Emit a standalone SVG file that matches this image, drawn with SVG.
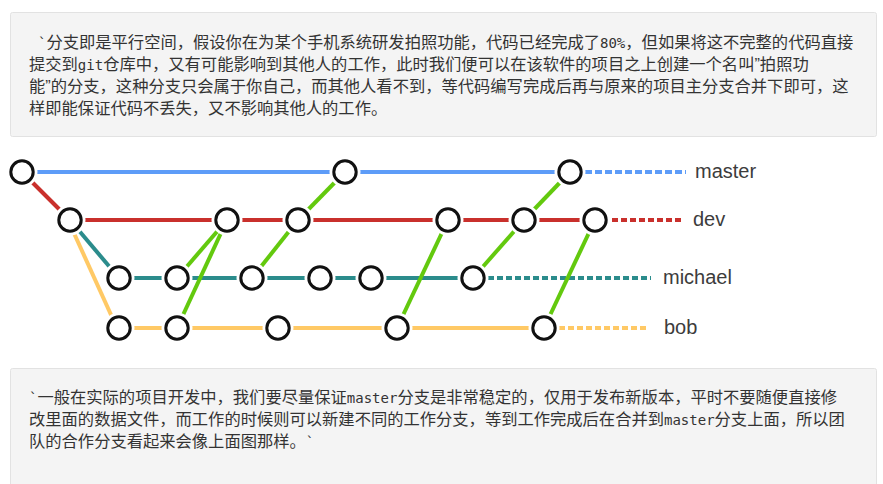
<svg xmlns="http://www.w3.org/2000/svg" width="883" height="484" viewBox="0 0 883 484">
<style>
.box{fill:#f4f4f4;stroke:#e2e2e2;stroke-width:1}
.t1{font-family:"Noto Sans CJK SC","Liberation Sans",sans-serif;font-size:16.3px;fill:#333}
.m1{font-family:"DejaVu Sans Mono","Noto Sans CJK SC",monospace;font-size:14px}
.q{font-family:"Liberation Sans",sans-serif}
.ln{stroke-width:4;fill:none;stroke-linecap:butt}
.blue{stroke:#5d9cf8}.red{stroke:#c9302c}.teal{stroke:#2b8c8c}.yel{stroke:#ffc965}.grn{stroke:#63c90e}
.dash{stroke-dasharray:6 3}
.halo{fill:#fff}
.node{fill:#fff;stroke:#111;stroke-width:3}
.lbl{font-family:"Liberation Sans",sans-serif;font-size:20px;fill:#3c3c3c}
</style>
<defs>
<g id="n"><circle class="halo" r="15.5"/><circle class="node" r="11.2"/></g>
</defs>
<rect width="883" height="484" fill="#fff"/>
<g id="top-note">
<rect class="box" x="10.5" y="12.5" width="866" height="124" rx="2"/>
<text class="t1" x="38" y="48"><tspan class="m1">`</tspan>分支即是平行空间，假设你在为某个手机系统研发拍照功能，代码已经完成了<tspan class="m1">80%</tspan>，但如果将这不完整的代码直接</text>
<text class="t1" x="29" y="70">提交到<tspan class="m1">git</tspan>仓库中，又有可能影响到其他人的工作，此时我们便可以在该软件的项目之上创建一个名叫<tspan class="q">”</tspan>拍照功</text>
<text class="t1" x="29" y="92">能<tspan class="q">”</tspan>的分支，这种分支只会属于你自己，而其他人看不到，等代码编写完成后再与原来的项目主分支合并下即可，这</text>
<text class="t1" x="29" y="114">样即能保证代码不丢失，又不影响其他人的工作。</text>
</g>
<g id="connectors">
<line class="ln blue" x1="22" y1="172" x2="570" y2="172"/>
<line class="ln blue dash" x1="585" y1="172" x2="686" y2="172" style="stroke-dasharray:7 3"/>
<line class="ln red" x1="22" y1="172" x2="70" y2="220"/>
<line class="ln red" x1="70" y1="220" x2="595" y2="220"/>
<line class="ln red dash" x1="612" y1="220" x2="684" y2="220"/>
<line class="ln teal" x1="70" y1="220" x2="119" y2="278"/>
<line class="ln teal" x1="119" y1="278" x2="473" y2="278"/>
<line class="ln teal dash" x1="488" y1="278" x2="651" y2="278"/>
<line class="ln yel" x1="68" y1="220" x2="117" y2="328"/>
<line class="ln yel" x1="119" y1="328" x2="544" y2="328"/>
<line class="ln yel dash" x1="559" y1="328" x2="649" y2="328"/>
<line class="ln grn" x1="177" y1="278" x2="227" y2="220"/>
<line class="ln grn" x1="177" y1="328" x2="227" y2="220"/>
<line class="ln grn" x1="252" y1="278" x2="298" y2="220"/>
<line class="ln grn" x1="298" y1="220" x2="345" y2="172"/>
<line class="ln grn" x1="397" y1="328" x2="448" y2="220"/>
<line class="ln grn" x1="473" y1="278" x2="524" y2="220"/>
<line class="ln grn" x1="524" y1="220" x2="570" y2="172"/>
<line class="ln grn" x1="544" y1="328" x2="595" y2="220"/>
</g>
<g id="master-0"><use href="#n" x="22" y="172"/></g>
<g id="master-1"><use href="#n" x="345" y="172"/></g>
<g id="master-2"><use href="#n" x="570" y="172"/></g>
<g id="dev-0"><use href="#n" x="70" y="220"/></g>
<g id="dev-1"><use href="#n" x="227" y="220"/></g>
<g id="dev-2"><use href="#n" x="298" y="220"/></g>
<g id="dev-3"><use href="#n" x="448" y="220"/></g>
<g id="dev-4"><use href="#n" x="524" y="220"/></g>
<g id="dev-5"><use href="#n" x="595" y="220"/></g>
<g id="michael-0"><use href="#n" x="119" y="278"/></g>
<g id="michael-1"><use href="#n" x="177" y="278"/></g>
<g id="michael-2"><use href="#n" x="252" y="278"/></g>
<g id="michael-3"><use href="#n" x="320" y="278"/></g>
<g id="michael-4"><use href="#n" x="371" y="278"/></g>
<g id="michael-5"><use href="#n" x="473" y="278"/></g>
<g id="bob-0"><use href="#n" x="119" y="328"/></g>
<g id="bob-1"><use href="#n" x="177" y="328"/></g>
<g id="bob-2"><use href="#n" x="278" y="328"/></g>
<g id="bob-3"><use href="#n" x="397" y="328"/></g>
<g id="bob-4"><use href="#n" x="544" y="328"/></g>
<g id="labels">
<text class="lbl" x="695" y="178">master</text>
<text class="lbl" x="693" y="226">dev</text>
<text class="lbl" x="663" y="284">michael</text>
<text class="lbl" x="664" y="334">bob</text>
</g>
<g id="bottom-note">
<rect class="box" x="10.5" y="368.5" width="866" height="130" rx="2"/>
<text class="t1" x="29" y="403"><tspan class="m1">`</tspan>一般在实际的项目开发中，我们要尽量保证<tspan class="m1">master</tspan>分支是非常稳定的，仅用于发布新版本，平时不要随便直接修</text>
<text class="t1" x="29" y="425">改里面的数据文件，而工作的时候则可以新建不同的工作分支，等到工作完成后在合并到<tspan class="m1">master</tspan>分支上面，所以团</text>
<text class="t1" x="29" y="447">队的合作分支看起来会像上面图那样。<tspan class="m1">`</tspan></text>
</g>
</svg>
